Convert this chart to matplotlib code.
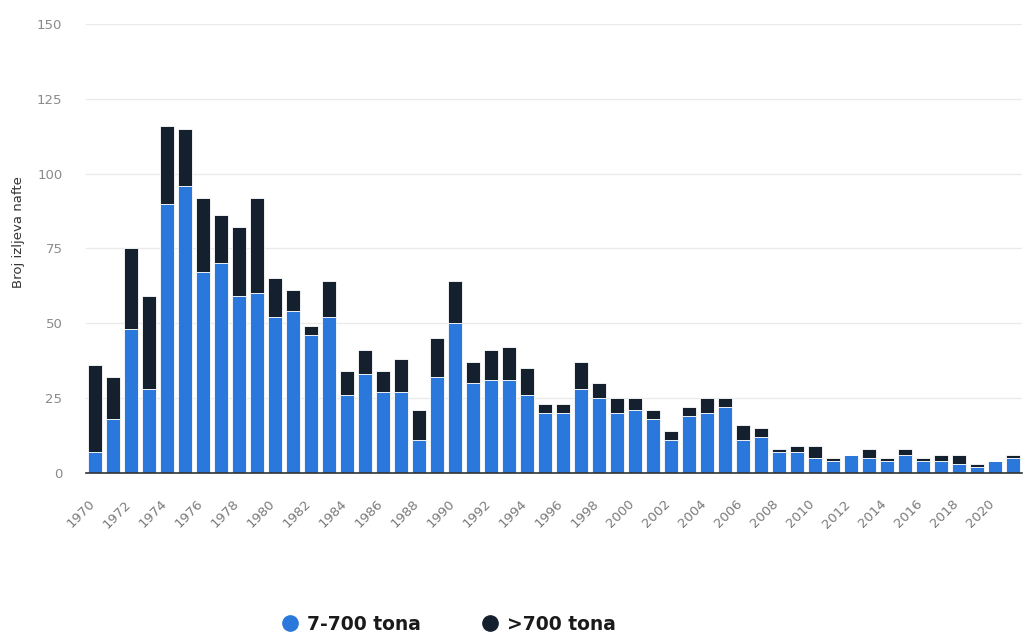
import matplotlib
matplotlib.use("Agg")
import matplotlib.pyplot as plt
from matplotlib.lines import Line2D
import matplotlib.transforms as mtransforms
import numpy as np

years = list(range(1970, 2022))
small_spills = [7, 18, 48, 28, 90, 96, 67, 70, 59, 60,
                52, 54, 46, 52, 26, 33, 27, 27, 11, 32,
                50, 30, 31, 31, 26, 20, 20, 28, 25, 20,
                21, 18, 11, 19, 20, 22, 11, 12, 7, 7,
                5, 4, 6, 5, 4, 6, 4, 4, 3, 2,
                4, 5]
large_spills = [29, 14, 27, 31, 26, 19, 25, 16, 23, 32,
                13, 7, 3, 12, 8, 8, 7, 11, 10, 13,
                14, 7, 10, 11, 9, 3, 3, 9, 5, 5,
                4, 3, 3, 3, 5, 3, 5, 3, 1, 2,
                4, 1, 0, 3, 1, 2, 1, 2, 3, 1,
                0, 1]
series_labels = ["7-700 tona", ">700 tona"]
y_ticks = [0, 25, 50, 75, 100, 125, 150]
y_label = "Broj izljeva nafte"

blue = "#2b78dc"
dark = "#14202e"

fig = plt.figure(figsize=(10.28, 6.36), dpi=100)
ax = fig.add_axes([0.0837, 0.257, 0.9105, 0.705])

x = np.arange(len(years))
ax.bar(x, small_spills, width=0.74, color=blue, edgecolor="white", linewidth=0.6, zorder=3)
ax.bar(x, large_spills, width=0.74, bottom=small_spills, color=dark, edgecolor="white",
       linewidth=0.6, zorder=3)

ax.set_xlim(-0.5, len(years) - 0.5)
ax.set_ylim(0, 150)
ax.set_yticks(y_ticks)
ax.set_yticklabels([str(v) for v in y_ticks], fontsize=9.5, color="#8a8a8a")
ax.yaxis.grid(True, color="#ebebeb", linewidth=1.0, zorder=0)
ax.set_axisbelow(True)

tick_pos = x[::2]
ax.set_xticks(tick_pos)
ax.set_xticklabels([str(years[i]) for i in tick_pos], rotation=45, ha="right",
                   rotation_mode="anchor", fontsize=9.5, color="#7a7a7a")
ax.tick_params(axis="y", length=0, pad=17)
ax.tick_params(axis="x", length=0, pad=18)
offset = mtransforms.ScaledTranslation(-0.07, 0, fig.dpi_scale_trans)
for lbl in ax.get_xticklabels():
    lbl.set_transform(lbl.get_transform() + offset)

for s in ["top", "right", "left"]:
    ax.spines[s].set_visible(False)
ax.spines["bottom"].set_color("#333333")
ax.spines["bottom"].set_linewidth(1.2)
ax.spines["bottom"].set_zorder(4)

fig.text(0.018, 0.635, y_label, rotation=90, va="center", ha="center",
         fontsize=9.5, color="#333333")

handles = [Line2D([0], [0], marker="o", color="none", markerfacecolor=blue,
                  markeredgecolor=blue, markersize=11),
           Line2D([0], [0], marker="o", color="none", markerfacecolor=dark,
                  markeredgecolor=dark, markersize=11)]
fig.legend(handles, series_labels, loc="center", bbox_to_anchor=(0.436, 0.018),
           ncol=2, frameon=False, prop={"size": 13.5, "weight": "bold"},
           handletextpad=0.4, columnspacing=3.2, handlelength=1.0, labelcolor="#1a1a1a")

fig.savefig("out.png", dpi=100, facecolor="white")
